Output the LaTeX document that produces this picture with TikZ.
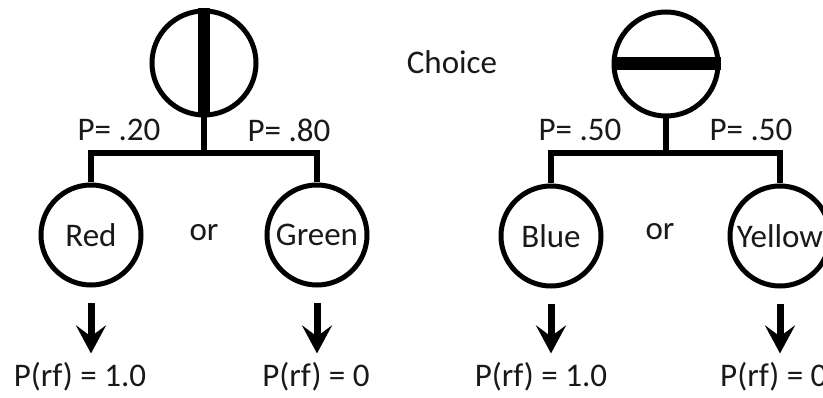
\documentclass[tikz,border=0pt]{standalone}
\usepackage{fontspec}
\setmainfont{Carlito}
\usetikzlibrary{arrows.meta}
\begin{document}
\begin{tikzpicture}[x=1pt,y=-1pt,
  txt/.style={font=\fontsize{33}{40}\selectfont, inner sep=0pt, text=black!90},
  choicec/.style={circle, draw, line width=5pt, minimum size=104pt, inner sep=0pt},
  chance/.style={circle, draw, line width=5pt, minimum size=100pt, inner sep=0pt, txt},
  bus/.style={line width=6pt, line join=miter},
  arr/.style={line width=7pt, -{Stealth[width=30pt,length=28pt,inset=11pt]}}]
\clip (0,0) rectangle (823,398);
\fill[white] (0,0) rectangle (823,398);
% left tree
\node[choicec] (lt) at (204,63) {};
\draw[line width=12pt] (lt.north) -- (lt.south);
\coordinate (lj) at (204,153);
\node[chance] (red) at (91,235) {Red};
\node[chance] (green) at (317,235) {Green};
\draw[bus] (lt) -- (lj);
\draw[bus] (red) |- (lj) -| (green);
\node[txt] (p20) at (119,130) {P= .20};
\node[txt] (p80) at (289,130) {P= .80};
\node[txt] (or1) at (204,233) {or};
\node[txt] (prfa) at (80,377) {P(rf) = 1.0};
\node[txt] (prfb) at (316,377) {P(rf) = 0};
\draw[arr, shorten <=16pt, shorten >=9pt] (red.south) -- (red.south |- prfa.north);
\draw[arr, shorten <=16pt, shorten >=9pt] (green.south) -- (green.south |- prfb.north);
% right tree
\node[txt] (choice) at (452,62) {Choice};
\node[choicec] (rt) at (666,64) {};
\draw[line width=13pt] (rt.west) -- (rt.east);
\coordinate (rj) at (666,153);
\node[chance] (blue) at (551,236) {Blue};
\node[chance] (yellow) at (780,236) {Yellow};
\draw[bus] (rt) -- (rj);
\draw[bus] (blue) |- (rj) -| (yellow);
\node[txt] (p50a) at (580,130) {P= .50};
\node[txt] (p50b) at (751,130) {P= .50};
\node[txt] (or2) at (660,232) {or};
\node[txt] (prfc) at (541,377) {P(rf) = 1.0};
\node[txt, anchor=west] (prfd) at (720,377) {P(rf) = 0};
\draw[arr, shorten <=16pt, shorten >=9pt] (blue.south) -- (blue.south |- prfc.north);
\draw[arr, shorten <=16pt, shorten >=9pt] (yellow.south) -- (yellow.south |- prfd.north);
\end{tikzpicture}
\end{document}
